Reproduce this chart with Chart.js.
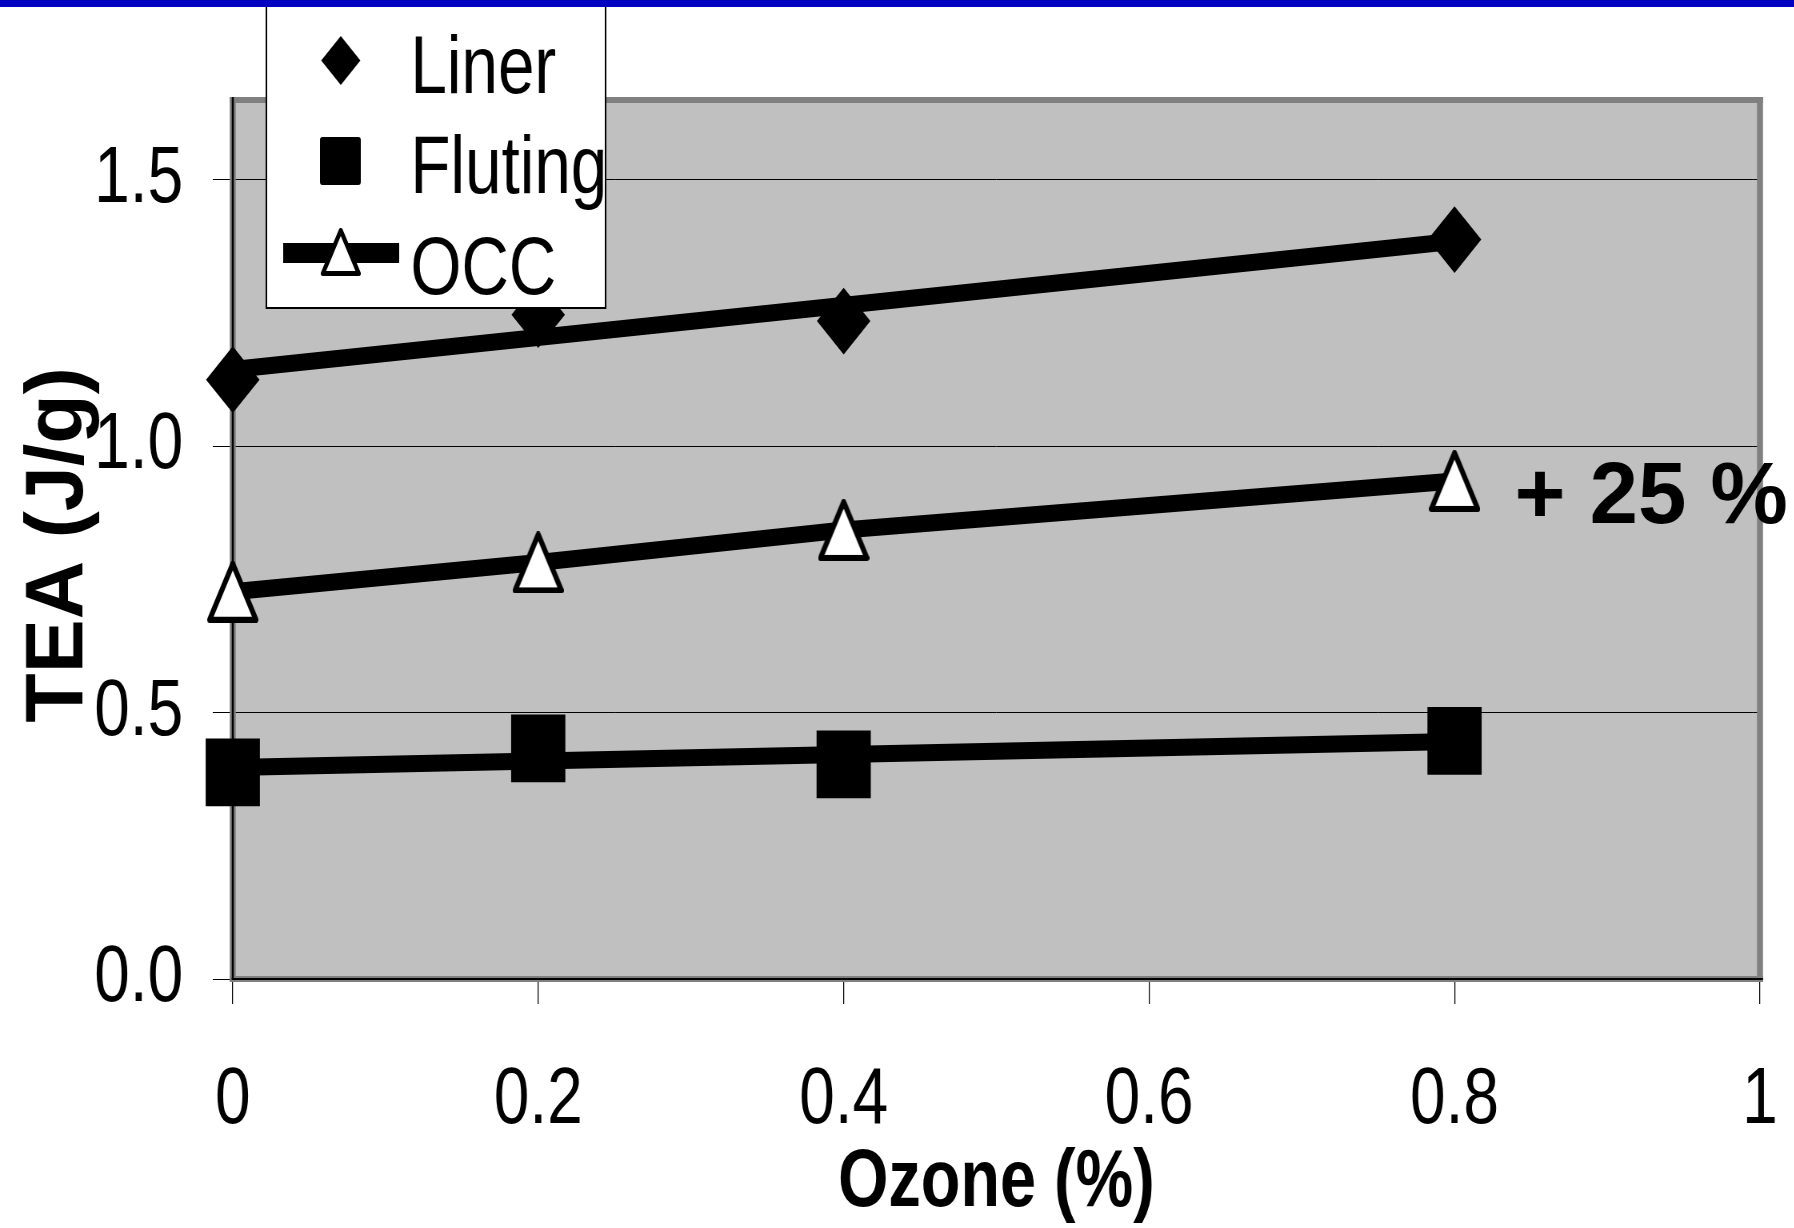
<!DOCTYPE html>
<html>
<head>
<meta charset="utf-8">
<title>TEA vs Ozone</title>
<script src="https://cdn.jsdelivr.net/npm/chart.js@4.4.0/dist/chart.umd.min.js"></script>
<style>
  html, body { margin: 0; padding: 0; background: #fff; overflow: hidden; }
  #wrap { width: 2243px; height: 1228px; transform: scaleX(0.8); transform-origin: 0 0; }
</style>
</head>
<body>
<div id="wrap"><canvas id="chart" width="2243" height="1228"></canvas></div>
<script>
const ozone = [0, 0.2, 0.4, 0.8];
const liner = [1.125, 1.247, 1.235, 1.388];
const fluting = [0.388, 0.433, 0.403, 0.447];
const occ = [0.727, 0.782, 0.843, 0.935];
const trendX = [0, 0.8];
const linerTrend = [1.144, 1.385];
const flutingTrend = [0.397, 0.446];
const xTicks = [0, 0.2, 0.4, 0.6, 0.8, 1];
const xTickLabels = ['0', '0.2', '0.4', '0.6', '0.8', '1'];
const yTicks = [0, 0.5, 1, 1.5];
const yTickLabels = ['0.0', '0.5', '1.0', '1.5'];
const seriesNames = ['Liner', 'Fluting', 'OCC'];
const xTitle = 'Ozone (%)';
const yTitle = 'TEA (J/g)';
const note = '+ 25 %';

const FONT = '"Liberation Sans", Arial, sans-serif';
const pts = (xs, ys) => xs.map((x, i) => ({ x: x, y: ys[i] }));

// white triangle with its box centred on the point
function triangleMarker(w, h, lw) {
    const c = document.createElement('canvas');
    c.width = w; c.height = h;
    const g = c.getContext('2d');
    const d = lw / 2;
    g.beginPath();
    g.moveTo(w / 2, d);
    g.lineTo(w - d, h - d);
    g.lineTo(d, h - d);
    g.closePath();
    g.fillStyle = '#fff';
    g.fill();
    g.lineWidth = lw;
    g.lineJoin = 'round';
    g.strokeStyle = '#000';
    g.stroke();
    return c;
}

const triPlot = triangleMarker(64, 62, 6);
const triLegend = triangleMarker(50, 48, 5);

function drawLegend(ctx) {
    ctx.save();
    ctx.fillStyle = '#fff';
    ctx.fillRect(333, -2, 424, 310);
    ctx.strokeStyle = '#000';
    ctx.lineWidth = 2;
    ctx.strokeRect(333, -2, 424, 310);

    ctx.fillStyle = '#000';
    ctx.beginPath();
    ctx.moveTo(426, 36);
    ctx.lineTo(450.5, 60.5);
    ctx.lineTo(426, 85);
    ctx.lineTo(401.5, 60.5);
    ctx.closePath();
    ctx.fill();

    ctx.beginPath();
    ctx.roundRect(400, 137, 51, 48, 3);
    ctx.fill();

    ctx.fillRect(354, 243, 145, 20);
    ctx.drawImage(triLegend, 426 - triLegend.width / 2, 252 - triLegend.height / 2);

    ctx.font = '82px ' + FONT;
    ctx.textAlign = 'left';
    ctx.textBaseline = 'alphabetic';
    ctx.fillText(seriesNames[0], 513, 93);
    ctx.fillText(seriesNames[1], 513, 193);
    ctx.fillText(seriesNames[2], 513, 294);
    ctx.restore();
}

const frame = {
    id: 'frame',
    beforeDraw(chart) {
        const { ctx, chartArea: a } = chart;
        ctx.save();
        ctx.fillStyle = '#fff';
        ctx.fillRect(0, 0, chart.width, chart.height);
        ctx.fillStyle = '#c0c0c0';
        ctx.fillRect(a.left, a.top, a.right - a.left, a.bottom - a.top);
        ctx.restore();
    },
    beforeDatasetsDraw(chart) {
        const { ctx, chartArea: a } = chart;
        ctx.save();
        ctx.fillStyle = '#808080';
        ctx.fillRect(a.left - 3.75, a.top - 3, a.right - a.left + 7.5, 6);
        ctx.fillRect(a.left - 3.75, a.bottom - 3, a.right - a.left + 7.5, 6);
        ctx.fillRect(a.left - 3.75, a.top - 3, 7.5, a.bottom - a.top + 6);
        ctx.fillRect(a.right - 3.75, a.top - 3, 7.5, a.bottom - a.top + 6);
        ctx.fillStyle = '#000';
        ctx.fillRect(a.left - 1.25, a.top - 3, 2.5, a.bottom - a.top + 4);
        ctx.fillRect(a.left - 1.25, a.bottom - 1, a.right - a.left + 5, 2);
        ctx.restore();
    },
    afterDraw(chart) {
        const ctx = chart.ctx;
        drawLegend(ctx);

        ctx.save();
        ctx.fillStyle = '#000';
        ctx.translate(102.5, 545);
        ctx.scale(1.25, 1);
        ctx.rotate(-Math.PI / 2);
        ctx.font = 'bold 81px ' + FONT;
        ctx.textAlign = 'center';
        ctx.textBaseline = 'alphabetic';
        ctx.fillText(yTitle, 0, 0);
        ctx.restore();

        const px = chart.scales.x.getPixelForValue(ozone[3]);
        const py = chart.scales.y.getPixelForValue(occ[3]);
        ctx.save();
        ctx.fillStyle = '#000';
        ctx.translate(px + 75, py + 42);
        ctx.scale(1.25, 1);
        ctx.font = 'bold 87px ' + FONT;
        ctx.textAlign = 'left';
        ctx.textBaseline = 'alphabetic';
        ctx.fillText(note, 0, 0);
        ctx.restore();

        ctx.save();
        ctx.fillStyle = '#0000c0';
        ctx.fillRect(0, 0, chart.width, 7);
        ctx.restore();
    }
};

const config = {
    type: 'scatter',
    data: {
        datasets: [
            {
                label: seriesNames[0],
                data: pts(ozone, liner),
                showLine: false,
                pointStyle: 'rectRot',
                pointRadius: 32,
                pointBorderWidth: 2,
                backgroundColor: '#000',
                borderColor: '#000',
                clip: false
            },
            {
                label: seriesNames[1],
                data: pts(ozone, fluting),
                showLine: false,
                pointStyle: 'rect',
                pointRadius: 46.5,
                pointBorderWidth: 2,
                backgroundColor: '#000',
                borderColor: '#000',
                clip: false
            },
            {
                label: seriesNames[2],
                data: pts(ozone, occ),
                showLine: true,
                borderColor: '#000',
                borderWidth: 17,
                pointStyle: triPlot,
                pointRadius: 31,
                clip: false
            },
            {
                label: 'Linear (' + seriesNames[0] + ')',
                data: pts(trendX, linerTrend),
                showLine: true,
                borderColor: '#000',
                borderWidth: 17,
                pointRadius: 0,
                clip: false
            },
            {
                label: 'Linear (' + seriesNames[1] + ')',
                data: pts(trendX, flutingTrend),
                showLine: true,
                borderColor: '#000',
                borderWidth: 17,
                pointRadius: 0,
                clip: false
            }
        ]
    },
    options: {
        responsive: false,
        devicePixelRatio: 1,
        animation: false,
        layout: { autoPadding: false, padding: { top: 100, right: 43, left: 0, bottom: 0 } },
        plugins: {
            legend: { display: false },
            tooltip: { enabled: false }
        },
        scales: {
            x: {
                type: 'linear',
                min: 0,
                max: 1,
                afterBuildTicks: s => { s.ticks = xTicks.map(v => ({ value: v })); },
                afterFit: s => { s.height = 249; s.paddingLeft = 0; s.paddingRight = 0; },
                grid: { drawOnChartArea: false, drawTicks: true, tickLength: 25, color: '#000', lineWidth: 1.25 },
                border: { display: false },
                ticks: {
                    autoSkip: false,
                    maxRotation: 0,
                    padding: 49,
                    color: '#000',
                    font: { family: FONT, size: 80 },
                    callback: (v, i) => xTickLabels[i]
                },
                title: {
                    display: true,
                    text: xTitle,
                    color: '#000',
                    font: { family: FONT, size: 81, weight: 'bold', lineHeight: 1 },
                    padding: { top: 0, bottom: 4 }
                }
            },
            y: {
                type: 'linear',
                min: 0,
                max: 1.65,
                afterBuildTicks: s => { s.ticks = yTicks.map(v => ({ value: v })); },
                afterFit: s => { s.width = 291; },
                grid: { drawOnChartArea: true, drawTicks: true, tickLength: 25, color: '#000', lineWidth: 1 },
                border: { display: false },
                ticks: {
                    padding: 37,
                    color: '#000',
                    font: { family: FONT, size: 80 },
                    callback: (v, i) => yTickLabels[i]
                }
            }
        }
    },
    plugins: [frame]
};

new Chart(document.getElementById('chart'), config);
</script>
</body>
</html>
